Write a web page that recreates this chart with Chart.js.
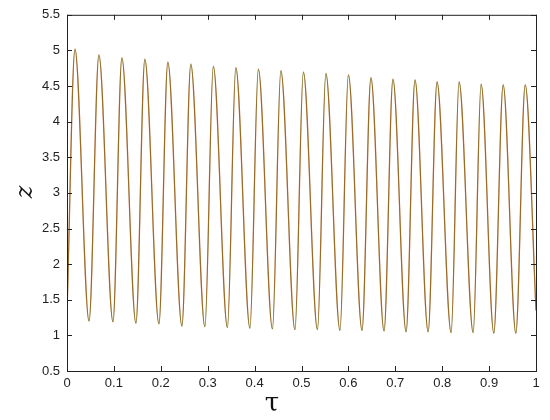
<!DOCTYPE html>
<html>
<head>
<meta charset="utf-8">
<script src="https://cdn.jsdelivr.net/npm/chart.js@4"></script>
<style>
  html, body { margin: 0; padding: 0; background: #fff; }
  #wrap { width: 550px; height: 420px; position: relative; }
</style>
</head>
<body>
<div id="wrap"><canvas id="zChart"></canvas></div>
<script>
// peak / trough positions
const tau = [0, 0.017, 0.047, 0.068, 0.098, 0.117, 0.147, 0.166, 0.196, 0.215, 0.245,
  0.264, 0.294, 0.312, 0.342, 0.360, 0.390, 0.408, 0.438, 0.456, 0.486, 0.504, 0.534,
  0.552, 0.582, 0.600, 0.629, 0.648, 0.676, 0.695, 0.723, 0.742, 0.770, 0.789, 0.819,
  0.836, 0.866, 0.883, 0.910, 0.930, 0.957, 0.977, 1.0];

const zRed = [1.30, 5.02, 1.20, 4.94, 1.19, 4.90, 1.17, 4.88, 1.16, 4.84, 1.13,
  4.81, 1.12, 4.78, 1.11, 4.76, 1.10, 4.74, 1.09, 4.72, 1.08, 4.70, 1.08,
  4.68, 1.07, 4.66, 1.07, 4.62, 1.06, 4.60, 1.05, 4.59, 1.05, 4.56, 1.04,
  4.56, 1.04, 4.53, 1.03, 4.52, 1.03, 4.52, 1.35];

const zGreen = [1.30, 5.01, 1.20, 4.93, 1.19, 4.89, 1.17, 4.87, 1.16, 4.83, 1.13,
  4.80, 1.12, 4.77, 1.11, 4.75, 1.10, 4.73, 1.09, 4.71, 1.08, 4.69, 1.08,
  4.67, 1.07, 4.65, 1.07, 4.61, 1.06, 4.59, 1.05, 4.58, 1.05, 4.55, 1.04,
  4.55, 1.04, 4.52, 1.03, 4.51, 1.03, 4.51, 1.35];

const xTicks = [0, 0.1, 0.2, 0.3, 0.4, 0.5, 0.6, 0.7, 0.8, 0.9, 1];
const yTicks = [0.5, 1, 1.5, 2, 2.5, 3, 3.5, 4, 4.5, 5, 5.5];

function pts(xs, ys) {
  return xs.map((x, i) => ({ x: x, y: ys[i] }));
}

// black box + inward ticks on all four sides, plus axis symbols
const boxPlugin = {
  id: "box",
  afterDraw(chart) {
    const c = chart.ctx, a = chart.chartArea;
    const sx = chart.scales.x, sy = chart.scales.y;
    c.save();
    c.strokeStyle = "#222";
    c.lineWidth = 1;
    c.strokeRect(a.left + 0.5, a.top + 0.5, a.right - a.left, a.bottom - a.top);
    c.beginPath();
    xTicks.forEach(v => {
      const px = Math.round(sx.getPixelForValue(v)) + 0.5;
      c.moveTo(px, a.bottom); c.lineTo(px, a.bottom - 5);
      c.moveTo(px, a.top); c.lineTo(px, a.top + 5);
    });
    yTicks.forEach(v => {
      const py = Math.round(sy.getPixelForValue(v)) + 0.5;
      c.moveTo(a.left, py); c.lineTo(a.left + 5, py);
      c.moveTo(a.right, py); c.lineTo(a.right - 5, py);
    });
    c.stroke();

    c.fillStyle = "#111";
    c.font = "26px 'DejaVu Serif'";
    c.textAlign = "center";
    c.textBaseline = "middle";
    c.fillText("\u03c4", 272, 404);
    c.translate(26, 192);
    c.rotate(-Math.PI / 2);
    c.font = "italic 24px 'DejaVu Serif'";
    c.fillText("z", 0, 0);
    c.restore();
  }
};

new Chart(document.getElementById("zChart"), {
  type: "scatter",
  data: {
    datasets: [
      {
        label: "green",
        data: pts(tau, zGreen),
        showLine: true,
        borderColor: "rgba(0,128,0,0.3)",
        borderWidth: 1,
        pointRadius: 0,
        cubicInterpolationMode: "monotone"
      },
      {
        label: "red",
        data: pts(tau, zRed),
        showLine: true,
        borderColor: "rgba(205,95,45,0.95)",
        borderWidth: 1.3,
        pointRadius: 0,
        cubicInterpolationMode: "monotone"
      }
    ]
  },
  options: {
    responsive: true,
    maintainAspectRatio: false,
    animation: false,
    layout: { padding: { top: 14, right: 14, left: 0, bottom: 0 } },
    plugins: { legend: { display: false }, tooltip: { enabled: false } },
    scales: {
      x: {
        type: "linear", min: 0, max: 1,
        afterBuildTicks: s => { s.ticks = xTicks.map(v => ({ value: v })); },
        afterFit: s => { s.height = 49; },
        grid: { display: false, drawTicks: false },
        border: { display: false },
        ticks: {
          padding: 5,
          maxRotation: 0,
          color: "#222",
          font: { family: "'Liberation Sans'", size: 13 },
          callback: v => String(v)
        }
      },
      y: {
        type: "linear", min: 0.5, max: 5.5,
        afterBuildTicks: s => { s.ticks = yTicks.map(v => ({ value: v })); },
        afterFit: s => { s.width = 67; },
        grid: { display: false, drawTicks: false },
        border: { display: false },
        ticks: {
          padding: 7,
          color: "#222",
          font: { family: "'Liberation Sans'", size: 13 },
          callback: v => String(v)
        }
      }
    }
  },
  plugins: [boxPlugin]
});
</script>
</body>
</html>
